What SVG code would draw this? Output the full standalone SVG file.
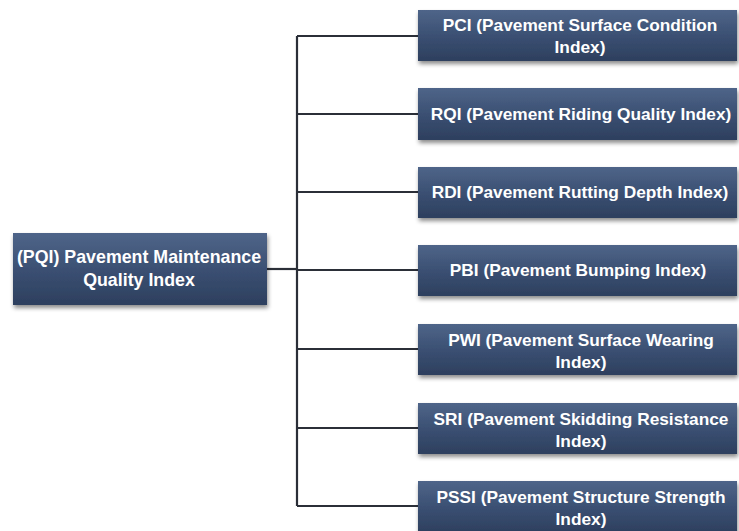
<svg xmlns="http://www.w3.org/2000/svg" width="739" height="531" viewBox="0 0 739 531">
<defs>
<linearGradient id="g" x1="0" y1="0" x2="0" y2="1">
<stop offset="0" stop-color="#4f6589"/>
<stop offset="0.5" stop-color="#3b5073"/>
<stop offset="1" stop-color="#2d3f5e"/>
</linearGradient>
<filter id="sh" x="-5%" y="-10%" width="110%" height="140%">
<feDropShadow dx="1" dy="3" stdDeviation="2" flood-color="#000" flood-opacity="0.45"/>
</filter>
<style>
.box{fill:url(#g);filter:url(#sh);}
.t{font-family:"Liberation Sans",Arial,sans-serif;font-weight:bold;font-size:17.3px;fill:#ffffff;text-anchor:middle;}
.c{fill:none;stroke:#2b2f38;stroke-width:2.2;}
</style>
</defs>
<rect width="739" height="531" fill="#ffffff"/>
<g id="connectors">
<path class="c" d="M267 269 H297"/>
<path class="c" d="M297 36 V506"/>
<path class="c" d="M297 36 H418 M297 114 H418 M297 192 H418 M297 270 H418 M297 349 H418 M297 428 H418 M297 506 H418"/>
</g>
<g id="pqi">
<rect class="box" x="13" y="233" width="254" height="72"/>
<text class="t" x="139" y="263" style="font-size:17.8px">(PQI) Pavement Maintenance</text>
<text class="t" x="139" y="286" style="font-size:17.8px">Quality Index</text>
</g>
<g id="pci">
<rect class="box" x="418" y="10" width="319" height="51"/>
<text class="t" x="580" y="31">PCI (Pavement Surface Condition</text>
<text class="t" x="580" y="53">Index)</text>
</g>
<g id="rqi">
<rect class="box" x="418" y="88" width="319" height="52"/>
<text class="t" x="581" y="120">RQI (Pavement Riding Quality Index)</text>
</g>
<g id="rdi">
<rect class="box" x="418" y="167" width="319" height="51"/>
<text class="t" x="580" y="198">RDI  (Pavement Rutting Depth Index)</text>
</g>
<g id="pbi">
<rect class="box" x="418" y="245" width="319" height="51"/>
<text class="t" x="578" y="276">PBI (Pavement Bumping Index)</text>
</g>
<g id="pwi">
<rect class="box" x="418" y="324" width="319" height="51"/>
<text class="t" x="581" y="346">PWI (Pavement Surface Wearing</text>
<text class="t" x="581" y="368">Index)</text>
</g>
<g id="sri">
<rect class="box" x="418" y="403" width="319" height="51"/>
<text class="t" x="581" y="425">SRI (Pavement Skidding Resistance</text>
<text class="t" x="581" y="447">Index)</text>
</g>
<g id="pssi">
<rect class="box" x="418" y="481" width="319" height="52"/>
<text class="t" x="581" y="503">PSSI (Pavement Structure Strength</text>
<text class="t" x="581" y="525">Index)</text>
</g>
</svg>
